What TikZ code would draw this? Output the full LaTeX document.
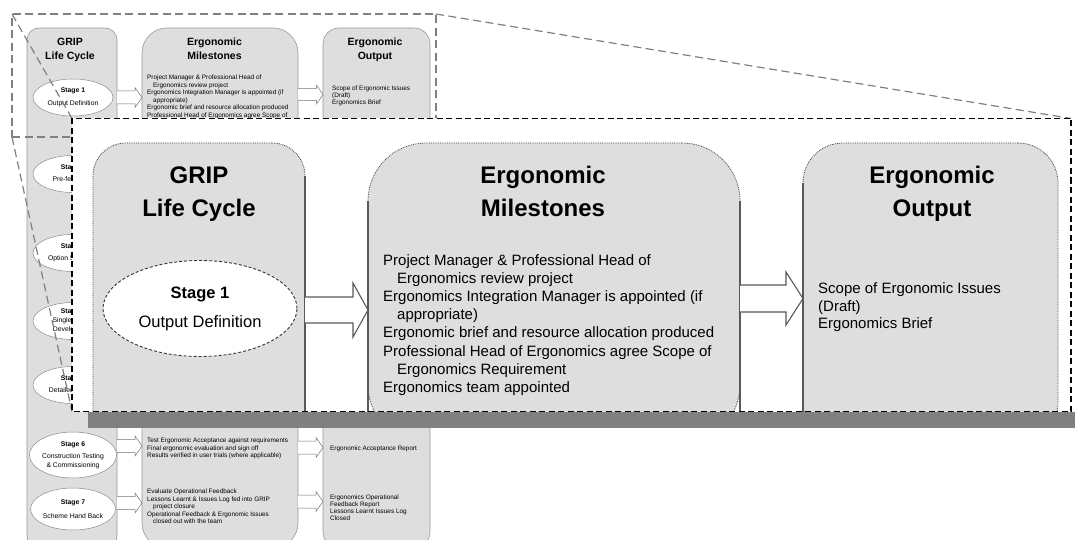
\documentclass[tikz,border=0pt]{standalone}
\usepackage{fontspec}
\setmainfont{Liberation Sans}
\usepackage{tikz}
\usetikzlibrary{calc}
\usetikzlibrary{shapes.geometric}
\newcommand{\blockarr}[7][bigarr]{%
  \path (#2.east |- 0,#4) coordinate (ba-s) (#3.west |- 0,#4) coordinate (ba-e);
  \draw[#1] ($(ba-s)+(0,#5)$) -- ($(ba-e)+(-#7,#5)$) -- ($(ba-e)+(-#7,#6)$) -- (ba-e)
    -- ($(ba-e)+(-#7,-#6)$) -- ($(ba-e)+(-#7,-#5)$) -- ($(ba-s)+(0,-#5)$);}

\begin{document}
\begin{tikzpicture}[x=1pt, y=1pt,
    colbox/.style={rectangle, fill=black!13, inner sep=0pt, outer sep=0pt},
    smallcol/.style={colbox, draw=black!40, line width=0.6pt},
    bigcol/.style={colbox, draw=black!75, densely dotted, line width=0.8pt},
    colside/.style={draw=black!65, line width=1.3pt},
    stagebox/.style={ellipse, fill=white, inner sep=0pt, align=center},
    smallstage/.style={stagebox, draw=black!45, line width=0.5pt, minimum width=80pt, minimum height=37pt, font=\fontsize{6.8}{12.5}\selectfont},
    bigarr/.style={draw=black!65, fill=white, line width=1.1pt},
    smallarr/.style={draw=black!55, fill=white, line width=0.5pt},
    bigtitle/.style={font=\bfseries\fontsize{24}{33}\selectfont, align=center, inner sep=0pt},
    smalltitle/.style={font=\bfseries\fontsize{10.5}{14}\selectfont, align=center, inner sep=0pt},
    listtext/.style={anchor=north west, align=left, inner sep=0pt},
    smalllist/.style={listtext, font=\fontsize{6.4}{7.6}\selectfont},
    selframe/.style={draw=black!50, dash pattern=on 8pt off 4.5pt, line width=1.2pt},
    zoomframe/.style={draw=black, dash pattern=on 6pt off 3.5pt, line width=1.5pt}]
  \useasboundingbox (0,0) rectangle (1075,-540);

  \node[smallcol, rounded corners=12pt, minimum width=90pt, minimum height=520pt] (sGrip) at (72,-288) {};
  \node[smallcol, rounded corners=25pt, minimum width=156pt, minimum height=520pt] (sMile) at (220,-288) {};
  \node[smallcol, rounded corners=16pt, minimum width=107pt, minimum height=520pt] (sOut) at (376.5,-288) {};
  \node[smalltitle] (gripS) at (70,-50) {\strut GRIP\\Life Cycle\strut};
  \node[smalltitle] (mileS) at (214.5,-50) {\strut Ergonomic\\Milestones\strut};
  \node[smalltitle] (outS) at (375,-50) {\strut Ergonomic\\Output\strut};

  \node[smallstage] (sst1) at (73,-97.5) {\textbf{Stage 1}\\Output Definition};
  \node[smallstage] (sst2) at (73,-174) {\textbf{Stage 2}\\Pre-feasibility};
  \node[smallstage] (sst3) at (73,-253) {\textbf{Stage 3}\\Option Selection};
  \node[smallstage, font=\fontsize{6.8}{9}\selectfont] (sst4) at (73,-321) {\textbf{Stage 4}\\Single Option\\Development};
  \node[smallstage] (sst5) at (73,-385) {\textbf{Stage 5}\\Detailed Design};
  \node[smallstage, minimum height=46pt, font=\fontsize{6.8}{9}\selectfont] (sst6) at (73,-455) {\textbf{Stage 6}\\[3pt]Construction Testing\\\& Commissioning};
  \node[smallstage, minimum height=42pt, font=\fontsize{6.8}{14}\selectfont] (sst7) at (73,-509) {\textbf{Stage 7}\\Scheme Hand Back};

  \blockarr[smallarr]{sGrip}{sMile}{-97.5}{6.5}{10}{7}
  \blockarr[smallarr]{sMile}{sOut}{-94.5}{6}{9.5}{6.5}
  \blockarr[smallarr]{sGrip}{sMile}{-446}{6.5}{10}{7}
  \blockarr[smallarr]{sMile}{sOut}{-447.5}{6.5}{10}{7}
  \blockarr[smallarr]{sGrip}{sMile}{-503}{6.5}{10}{7}
  \blockarr[smallarr]{sMile}{sOut}{-501.5}{6.5}{10}{7}

  \node[smalllist] (mileS1) at (147,-74.6) {Project Manager \& Professional Head of\\\hspace*{6pt}Ergonomics review project\\Ergonomics Integration Manager is appointed (if\\\hspace*{6pt}appropriate)\\Ergonomic brief and resource allocation produced\\Professional Head of Ergonomics agree Scope of\\\hspace*{6pt}Ergonomics Requirement\\Ergonomics team appointed};
  \node[smalllist, font=\fontsize{6.4}{7}\selectfont] (outS1) at (332,-85.6) {Scope of Ergonomic Issues\\(Draft)\\Ergonomics Brief};
  \node[smalllist] (mileS6) at (147,-437.6) {Test Ergonomic Acceptance against requirements\\Final ergonomic evaluation and sign off\\Results verified in user trials (where applicable)};
  \node[smalllist, font=\fontsize{6.4}{7}\selectfont] (outS6) at (330,-445.6) {Ergonomic Acceptance Report};
  \node[smalllist] (mileS7) at (147,-488.6) {Evaluate Operational Feedback\\Lessons Learnt \& Issues Log fed into GRIP\\\hspace*{6pt}project closure\\Operational Feedback \& Ergonomic Issues\\\hspace*{6pt}closed out with the team};
  \node[smalllist, font=\fontsize{6.4}{7}\selectfont] (outS7) at (330,-494.6) {Ergonomics Operational\\Feedback Report\\Lessons Learnt Issues Log\\Closed};

  \node[selframe, inner sep=0pt, outer sep=0pt, minimum width=424pt, minimum height=123pt] (sel) at (224,-75.5) {};

  \node[fill=white, inner sep=0pt, outer sep=0pt, minimum width=999pt, minimum height=293pt] (zoom) at (571.5,-265) {};
  \fill[black!50] ([xshift=16pt]zoom.south west) rectangle ([xshift=16pt,yshift=-16.5pt]zoom.south east);
  \draw[selframe] (sel.north west) -- (zoom.north west);
  \draw[selframe] (sel.south west) -- (zoom.south west);
  \draw[selframe] (sel.north east) -- (zoom.north east);

  \begin{scope}
    \clip (zoom.north west) rectangle (zoom.south east);
    \node[bigcol, rounded corners=33pt, minimum width=212pt, minimum height=300pt] (bGrip) at (199,-293) {};
    \node[bigcol, rounded corners=58pt, minimum width=372pt, minimum height=300pt] (bMile) at (554,-293) {};
    \node[bigcol, rounded corners=40pt, minimum width=255pt, minimum height=300pt] (bOut) at (930.5,-293) {};
    \draw[colside] ([yshift=-33pt]bGrip.north east) -- (bGrip.south east);
    \draw[colside] ([yshift=-58pt]bMile.north west) -- (bMile.south west);
    \draw[colside] ([yshift=-58pt]bMile.north east) -- (bMile.south east);
    \draw[colside] ([yshift=-40pt]bOut.north west) -- (bOut.south west);

    \node[bigtitle] (gripT) at (199,-193.5) {\strut GRIP\\Life Cycle\strut};
    \node[bigtitle] (mileT) at (543,-193.5) {\strut Ergonomic\\Milestones\strut};
    \node[bigtitle] (outT) at (932,-193.5) {\strut Ergonomic\\Output\strut};

    \node[stagebox, draw=black!80, densely dashed, line width=0.9pt, minimum width=194pt, minimum height=96pt, font=\fontsize{16.5}{29}\selectfont] (st1) at (200,-308.5) {\textbf{Stage 1}\\Output Definition};

    \blockarr{bGrip}{bMile}{-310}{13}{27}{15}
    \blockarr{bMile}{bOut}{-298.5}{13.5}{26.5}{17}

    \node[listtext, font=\fontsize{15}{18.1}\selectfont] (mileL) at (383,-254.5) {Project Manager \& Professional Head of\\\hspace*{14pt}Ergonomics review project\\Ergonomics Integration Manager is appointed (if\\\hspace*{14pt}appropriate)\\Ergonomic brief and resource allocation produced\\Professional Head of Ergonomics agree Scope of\\\hspace*{14pt}Ergonomics Requirement\\Ergonomics team appointed};
    \node[listtext, font=\fontsize{15}{17.5}\selectfont] (outL) at (818,-282.5) {Scope of Ergonomic Issues\\(Draft)\\Ergonomics Brief};
  \end{scope}
  \draw[zoomframe] (zoom.north west) rectangle (zoom.south east);
\end{tikzpicture}
\end{document}
